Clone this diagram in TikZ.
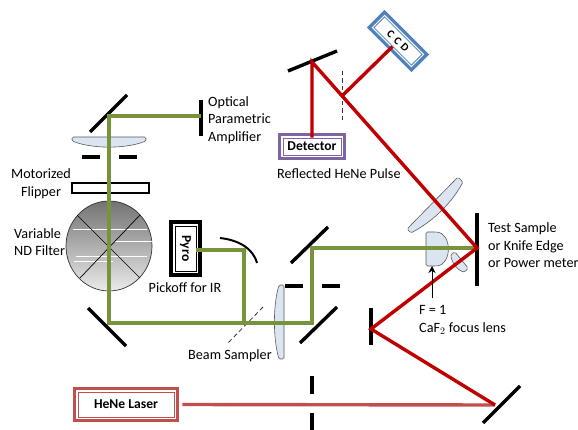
\documentclass[tikz,border=0pt]{standalone}
\usepackage{fontspec}
\setmainfont{Carlito}
\usetikzlibrary{arrows.meta}
\definecolor{beamgreen}{HTML}{77933C}
\definecolor{beamred}{HTML}{C00000}
\definecolor{laserred}{HTML}{C0504D}
\definecolor{boxpurple}{HTML}{8064A2}
\definecolor{boxblue}{HTML}{4F81BD}
\definecolor{lensblue}{HTML}{DBE5F1}
\begin{document}
\begin{tikzpicture}[x=1pt,y=-1pt]
\useasboundingbox (0,0) rectangle (578,430);
%styles of the nodes
\tikzstyle{label}=[inner sep=0pt,align=left,font=\fontsize{14.2}{17.5}\selectfont]
\tikzstyle{framed}=[rectangle,draw=#1,line width=.8pt,fill=white,inner sep=0pt,
preaction={draw=#1,line width=10pt},preaction={draw=white,line width=3.2pt},
font=\fontsize{13.6}{15}\selectfont\bfseries]
%styles of the optics
\tikzstyle{mirror}=[line width=3.4pt]
\tikzstyle{bar}=[line width=3.4pt]
\tikzstyle{lens}=[draw=black!65,line width=.6pt,fill=lensblue,rounded corners=1.5pt]
\tikzstyle{sampler}=[black!80,line width=.8pt,dash pattern=on 4.5pt off 3pt]
%styles of the beams
\tikzstyle{greenbeam}=[beamgreen,line width=3.4pt]
\tikzstyle{redbeam}=[beamred,line width=3.4pt]
\tikzstyle{laserbeam}=[laserred,line width=3.4pt]
%placing the boxes
\node[framed=boxpurple,minimum width=58pt,minimum height=17pt] (detector) at (312,146.5) {Detector};
\node[framed=boxblue,minimum width=53pt,minimum height=15pt,rotate=-45] (ccd) at (398,41) {\fontsize{11}{12}\selectfont\addfontfeature{LetterSpace=35}CCD};
\node[preaction={draw=black,line width=12.5pt},framed=black,minimum width=21pt,minimum height=45pt] (pyro) at (185.5,248.5) {};
\node[rotate=-90,font=\fontsize{13.6}{15}\selectfont\bfseries,inner sep=0pt] (pyrotext) at (pyro) {Pyro};
\node[framed=laserred,minimum width=96pt,minimum height=25pt] (laser) at (126,404.5) {HeNe Laser};
%placing the labels
\node[label,anchor=west] (opa) at (208,120) {Optical\\Parametric\\Amplifier};
\node[label,align=center] (flipperlabel) at (41,183.5) {Motorized\\Flipper};
\node[label,anchor=west] (ndlabel) at (14,242) {Variable\\ND Filter};
\node[label] (pickoff) at (185,288) {Pickoff for IR};
\node[label,anchor=west] (samplerlabel) at (188,356) {Beam Sampler};
\node[label,anchor=west] (reflected) at (277,174) {Reflected HeNe Pulse};
\node[label,anchor=west] (testlabel) at (488,245.5) {Test Sample\\or Knife Edge\\or Power meter};
\node[label,anchor=west] (focuslabel) at (419,320) {F = 1\\CaF$_2$ focus lens};
%points where the beams turn
\coordinate (turnopa) at (109,116);
\coordinate (opabar) at (201,116);
\coordinate (turnlow) at (109,323);
\coordinate (pick) at (244,323);
\coordinate (pickup) at (244,250);
\coordinate (turnright) at (312,323);
\coordinate (turnup) at (312,248);
\coordinate (sample) at (477,248);
\coordinate (folda) at (371,329);
\coordinate (foldb) at (495,405);
\coordinate (foldc) at (312,62);
\coordinate (split) at (342,96);
%the ND filter
\draw[black!80,line width=.7pt,top color=black!55,bottom color=black!8] (109,246) ellipse (43 and 45);
\draw[white,line width=1pt] (73,230) -- (147,230) (115,242) -- (152,242) (76,257) -- (147,257) (74,262) -- (113,262);
\draw[line width=.7pt] (77,215) -- (140,278) (140,215) -- (80,278);
%the lenses
\draw[lens] (72,137) -- (146,137) -- (146,141) .. controls (125,149) and (93,149) .. (72,141) -- cycle;
\draw[lens] (284,285) -- (284,359) -- (279,359) .. controls (273,338) and (273,306) .. (279,285) -- cycle;
\draw[lens] (426,232) -- (436,232) .. controls (452,234) and (452,264) .. (436,266) -- (426,266) -- cycle;
\draw[lens] (407,229) -- (458,177) -- (463,182) .. controls (451,204) and (433,221) .. (411,233) -- cycle;
\draw[lens] (455,252) -- (468,268) -- (465,272) .. controls (458,271) and (451,262) .. (451,254) -- cycle;
%mirrors, bars and apertures
\draw[mirror] (90,132) -- (127,95);
\draw[mirror] (88,308) -- (126,346);
\draw[mirror] (291,263) -- (328,227);
\draw[mirror] (300,343) -- (337,307);
\draw[mirror] (288,71) -- (337,51);
\draw[mirror] (483,423) -- (520,386);
\draw[bar] (opabar)+(0,-16) -- +(0,20);
\draw[bar] (sample)+(0,-35) -- +(0,38);
\draw[bar] (folda)+(0,-21) -- +(0,16);
\draw[bar] (82,157) -- (100,157) (119,157) -- (137,157);
\draw[bar] (285,286) -- (303,286) (322,286) -- (340,286);
\draw[bar] (312,376) -- (312,394) (312,413) -- (312,430);
\draw[fill=white,line width=1.8pt] (72,183) rectangle (149,193);
\draw[line width=2pt] (220,238) .. controls (238,240) and (253,248) .. (257,263);
\draw[sampler] (263,307) -- (228,343);
\draw[sampler] (342,71) -- (342,122);
%the beams
\draw[greenbeam] (opabar) -- (turnopa) -- (turnlow) -- (turnright) -- (turnup) -- (sample);
\draw[greenbeam] (pyro.east|-pickup) -- (pickup) -- (pick);
\draw[laserbeam] (laser.east)+(8,0) -- (foldb);
\draw[redbeam] (foldb) -- (folda) -- (sample) -- (foldc) -- (detector.north);
\draw[redbeam] (split) -- (ccd.south);
%the arrow
\draw[-{Stealth[length=7pt,width=7pt]},line width=.8pt] (432,298) -- (432,266);
\end{tikzpicture}
\end{document}
